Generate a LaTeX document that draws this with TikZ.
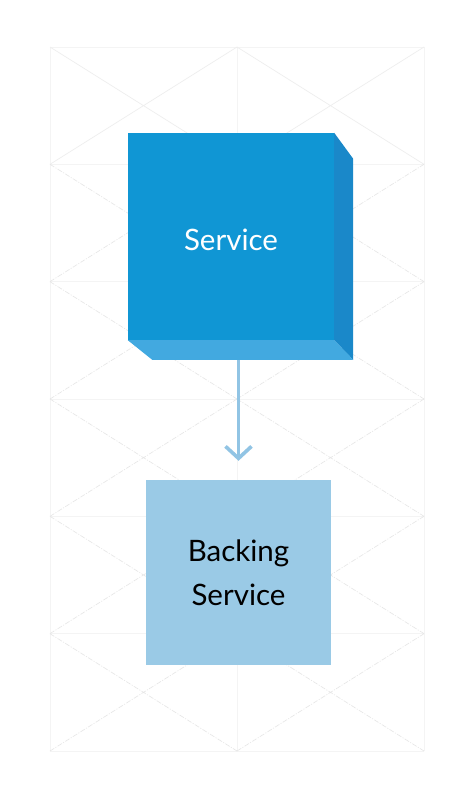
\documentclass[tikz,border=0pt]{standalone}
\usepackage{fontspec}
\setmainfont{Lato}
\usepackage{tikz}
\usetikzlibrary{calc,arrows.meta}
\usepackage{xcolor}
\definecolor{svcfront}{RGB}{16,150,212}
\definecolor{svcside}{RGB}{26,136,201}
\definecolor{svcbottom}{RGB}{66,169,224}
\definecolor{backfill}{RGB}{154,202,230}
\definecolor{arrowblue}{RGB}{145,196,228}
\definecolor{gridline}{RGB}{244,244,244}
\definecolor{griddiag}{RGB}{230,230,230}

\begin{document}
\begin{tikzpicture}[x=1pt,y=-1pt,
  gridrule/.style={gridline, line width=0.8pt},
  diagsolid/.style={gridline!95!gray, line width=0.7pt},
  diagdash/.style={griddiag, line width=0.6pt, dash pattern=on 5pt off 1.5pt on 1pt off 1.5pt},
  box/.style={inner sep=0pt, align=center, font=\fontsize{29.5}{44}\selectfont}]
\useasboundingbox [fill=white] (0,0) rectangle (474,798);
% background grid
\foreach \y in {47,164.3,281.7,399,516.3,633.7,751} \draw [gridrule] (50,\y) -- (424,\y);
\foreach \x in {50,237,424} \draw [gridrule] (\x,47) -- (\x,751);
\foreach \x in {50,237} {
  \draw [diagsolid] (\x,47) -- ++(187,117.3) (\x,164.3) -- ++(187,-117.3);
  \foreach \y in {164.3,281.7,399,516.3,633.7}
    \draw [diagdash] (\x,\y) -- ++(187,117.3) (\x,\y+117.3) -- ++(187,-117.3);
}
% service cube
\node [box, fill=svcfront, text=white, minimum width=206pt, minimum height=207pt] (svc) at (231,236.5) {\raisebox{-13.5pt}[0pt][0pt]{Service}};
\fill [svcside] (svc.north east) -- ++(19,26) -- ++(0,201) coordinate (svcbr) -- (svc.south east) -- cycle;
\fill [svcbottom] (svc.south west) -- (svc.south east) -- (svcbr) -- ++(-201,0) coordinate (svcbl) -- cycle;
% backing service
\node [box, fill=backfill, text=black, minimum width=185pt, minimum height=185pt] (back) at (238.5,572.5) {Backing\\Service};
\draw [arrowblue, line width=3.6pt, shorten >=19pt, -{Straight Barb[length=12pt,width=26pt,line width=3.6pt]}] (back.north |- svcbr) -- (back.north);
\end{tikzpicture}
\end{document}
